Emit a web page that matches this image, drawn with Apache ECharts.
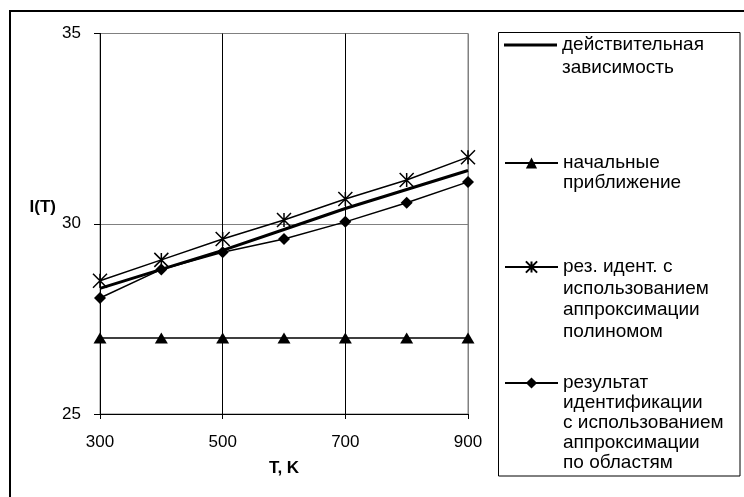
<!DOCTYPE html>
<html>
<head>
<meta charset="utf-8">
<script src="https://cdn.jsdelivr.net/npm/echarts@6/dist/echarts.min.js"></script>
<style>
  html, body { margin: 0; padding: 0; background: #fff; }
  #chart { width: 744px; height: 497px; }
</style>
</head>
<body>
<div id="chart"></div>
<script>
// температура, K
var temps = [300, 400, 500, 600, 700, 800, 900];
// I(T) по рядам
var realVals = [28.3, 28.8, 29.3, 29.85, 30.4, 30.9, 31.4];
var startVals = [27, 27, 27, 27, 27, 27, 27];
var polyVals = [28.5, 29.05, 29.6, 30.1, 30.65, 31.15, 31.75];
var areaVals = [28.05, 28.8, 29.25, 29.6, 30.05, 30.55, 31.1];

var names = [
    'действительная\nзависимость',
    'начальные\nприближение',
    'рез. идент. с\nиспользованием\nаппроксимации\nполиномом',
    'результат\nидентификации\nс использованием\nаппроксимации\nпо областям'
];

var font = 'Liberation Sans, Arial, sans-serif';

function pairs(vals) {
    var out = [];
    for (var i = 0; i < temps.length; i++) {
        out.push([temps[i], vals[i]]);
    }
    return out;
}

var starPath = 'path://M0,0L10,10M10,0L0,10M5,0L5,10';

// по одной легенде на ряд, значок должен стоять у первой строки,
// поэтому спереди добавляем пустые строки
var iconY = [45, 163, 267, 383];
var lineH = [23, 20, 21.5, 20];
var legends = [];
for (var k = 0; k < names.length; k++) {
    var n = names[k].split('\n').length;
    var item = { name: names[k] };
    if (k == 0) item.icon = 'rect';
    legends.push({
        data: [item],
        orient: 'vertical',
        left: 504,
        top: iconY[k] - lineH[k] * (2 * n - 1) / 2,
        padding: 0,
        itemWidth: 53,
        itemHeight: k == 0 ? 3 : 14,
        selectedMode: false,
        formatter: function (name) {
            var cnt = name.split('\n').length;
            var pre = '';
            for (var j = 1; j < cnt; j++) pre += '\n';
            return pre + name;
        },
        textStyle: {
            fontFamily: font,
            fontSize: 19,
            color: '#000',
            lineHeight: lineH[k]
        }
    });
}

var chart = echarts.init(document.getElementById('chart'));
var option = {
    animation: false,
    backgroundColor: '#fff',
    legend: legends,
    grid: {
        left: 100,
        right: 276,
        top: 33.5,
        bottom: 83,
        show: true,
        borderColor: '#808080',
        borderWidth: 1
    },
    xAxis: {
        type: 'value',
        min: 300,
        max: 900,
        interval: 200,
        name: 'T, K',
        nameLocation: 'middle',
        nameGap: 46,
        nameTextStyle: { fontFamily: font, fontSize: 17, fontWeight: 'bold', color: '#000' },
        axisLine: { lineStyle: { color: '#000', width: 1 } },
        axisTick: { show: true, length: 5, lineStyle: { color: '#000' } },
        axisLabel: { fontFamily: font, fontSize: 17, color: '#000', margin: 20 },
        splitLine: { show: true, lineStyle: { color: ['#000', '#000', '#000', '#808080'], width: 1 } }
    },
    yAxis: {
        type: 'value',
        min: 25,
        max: 35,
        interval: 5,
        name: 'I(T)\n',
        nameLocation: 'middle',
        nameRotate: 0,
        nameGap: 44,
        nameTextStyle: { fontFamily: font, fontSize: 17, fontWeight: 'bold', color: '#000', lineHeight: 32 },
        axisLine: { show: true, lineStyle: { color: '#000', width: 1 } },
        axisTick: { show: true, length: 6, lineStyle: { color: '#000' } },
        axisLabel: { fontFamily: font, fontSize: 17, color: '#000', margin: 19 },
        splitLine: { show: true, lineStyle: { color: '#808080', width: 1 } }
    },
    series: [
        {
            name: names[0],
            type: 'line',
            data: pairs(realVals),
            symbol: 'none',
            lineStyle: { color: '#000', width: 3 },
            itemStyle: { color: '#000' },
            z: 4
        },
        {
            name: names[1],
            type: 'line',
            data: pairs(startVals),
            symbol: 'triangle',
            symbolSize: [13, 11],
            lineStyle: { color: '#000', width: 1.5 },
            itemStyle: { color: '#000' }
        },
        {
            name: names[2],
            type: 'line',
            data: pairs(polyVals),
            symbol: starPath,
            symbolSize: 14,
            lineStyle: { color: '#000', width: 1.5 },
            itemStyle: { color: '#000', borderColor: '#000', borderWidth: 1.5 }
        },
        {
            name: names[3],
            type: 'line',
            data: pairs(areaVals),
            symbol: 'diamond',
            symbolSize: 12,
            lineStyle: { color: '#000', width: 1.5 },
            itemStyle: { color: '#000' }
        }
    ],
    graphic: [
        {
            type: 'rect',
            shape: { x: 10, y: 11, width: 740, height: 490 },
            style: { fill: 'none', stroke: '#000', lineWidth: 2 },
            silent: true
        },
        {
            type: 'rect',
            shape: { x: 498.5, y: 32.5, width: 241.5, height: 443.5 },
            style: { fill: 'none', stroke: '#000', lineWidth: 1 },
            silent: true
        }
    ]
};
chart.setOption(option);
</script>
</body>
</html>
